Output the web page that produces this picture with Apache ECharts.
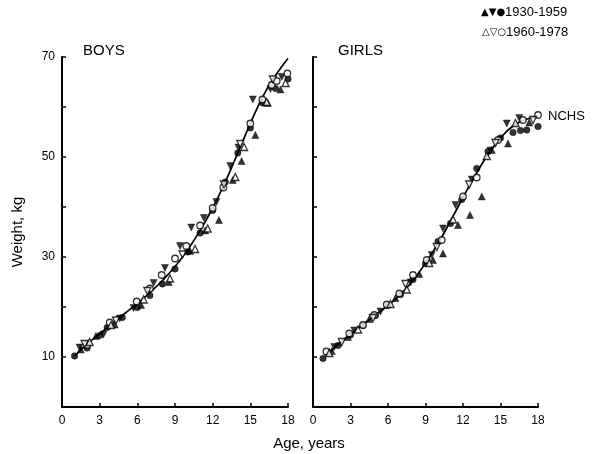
<!DOCTYPE html>
<html>
<head>
<meta charset="utf-8">
<script src="https://cdn.jsdelivr.net/npm/echarts@6/dist/echarts.min.js"></script>
<style>html,body{margin:0;padding:0;background:#fff}#c{width:600px;height:454px}</style>
</head>
<body>
<div id="c"></div>
<script>
// ---- data ----
const nchsAges = [1,2,3,4,5,6,7,8,9,10,11,12,13,14,15,16,17,18];
const boysNCHS  = [10.2,12.6,14.6,16.7,18.7,20.7,22.9,25.3,28.1,31.4,35.3,39.8,45.0,50.8,56.7,62.1,66.3,69.7];
const girlsNCHS = [10.3,12.5,14.6,16.5,18.4,20.3,22.5,25.3,28.8,32.7,37.2,41.9,46.4,50.5,53.8,56.2,57.5,58.0];

// 1930-1959 (filled markers)
const boysOldCircle = [[1,10.2],[2,11.8],[3,14.3],[3.6,15.9],[4.8,17.9],[6,19.9],[7,22.3],[8,24.6],[9,27.6],[10,31.0],[11,34.8],[12,39.3],[13,45.0],[14,50.8],[15,55.8],[16,60.8],[17,63.7],[18,65.6]];
const boysOldUp     = [[1.5,11.5],[2.7,14.2],[4.2,16.5],[6.3,20.4],[8.5,25.0],[10.2,31.2],[11.4,35.3],[12.5,37.4],[13.6,45.4],[14.3,49.2],[15.4,54.4],[16.4,60.8],[17.4,63.5],[18.3,65.4]];
const boysOldDown   = [[1.4,11.9],[3.3,14.5],[4.6,17.7],[5.7,19.8],[7.3,24.8],[8.2,27.8],[9.4,32.2],[10.3,35.9],[11.3,37.8],[12.3,41.0],[13.4,48.2],[14.05,51.9],[15.2,61.5],[16.6,63.6],[17.5,66.0],[18.3,66.5]];
// 1960-1978 (open markers)
const boysNewCircle = [[2,12.4],[3.8,16.9],[5.95,21.1],[7,23.7],[7.94,26.4],[9,29.7],[9.9,32.2],[11,36.3],[12,39.8],[12.85,43.9],[15,56.7],[15.96,61.5],[16.7,64.4],[17.1,65.2],[17.95,66.7]];
const boysNewUp     = [[2.2,13.0],[3.9,16.4],[6.5,21.5],[8.6,25.7],[10.6,31.6],[11.6,35.7],[13.8,46.0],[14.5,52.0],[16.3,61.0],[17.8,64.8]];
const boysNewDown   = [[1.8,12.6],[4.3,17.3],[6.8,23.2],[9.6,30.5],[12.9,44.5],[14.2,52.6],[16.8,65.5]];

const girlsOldCircle = [[0.8,9.7],[2,12.3],[3,14.4],[4,16.3],[5,18.3],[6,20.3],[7,22.5],[8,25.5],[9,28.7],[10,33.1],[11,36.7],[11.9,41.5],[13.1,47.7],[14,51.1],[15,53.8],[16,54.9],[16.6,55.3],[17.1,55.4],[18,56.1]];
const girlsOldUp     = [[1.5,11.2],[2.8,14.0],[4.5,17.6],[6.6,21.8],[8.5,26.6],[9.6,29.4],[10.4,30.7],[11.6,36.4],[12.56,38.4],[13.5,42.1],[14.3,51.4],[15.6,52.7],[17.3,56.9],[18.56,60.4]];
const girlsOldDown   = [[1.7,12.0],[3.3,15.3],[5.4,19.1],[7.8,24.9],[9.5,30.4],[10.4,35.7],[11.4,40.4],[12.7,45.5],[14.2,51.3],[15.5,56.7],[16.5,57.8],[18.4,54.1]];
const girlsNewCircle = [[1.07,11.1],[2.9,14.7],[4.0,16.4],[4.9,18.4],[5.9,20.5],[6.9,22.7],[8.0,26.4],[9.1,29.4],[10.3,33.4],[12,42.1],[13.1,45.9],[14.8,53.4],[16.8,57.4],[18,58.4]];
const girlsNewUp     = [[1.3,10.8],[3.6,15.5],[6.2,20.6],[7.5,23.5],[9.3,28.8],[11.2,37.5],[13.9,50.2],[16.2,56.8]];
const girlsNewDown   = [[2.3,13.0],[4.8,17.8],[7.4,24.6],[9.9,32.0],[12.5,44.5],[14.6,52.8],[17.6,57.4]];

const xTicks = [0,3,6,9,12,15,18];
const yLabelTicks = [10,30,50,70];

// ---- chart ----
const FONT = 'Liberation Sans, Arial, Helvetica, sans-serif';
const chart = echarts.init(document.getElementById('c'), null, {renderer:'canvas'});

function xAxis(idx){
  return {
    gridIndex: idx, type:'value', min:0, max:18, interval:3,
    axisLine:{show:true, onZero:false, lineStyle:{color:'#000', width:2}},
    axisTick:{show:true, inside:true, length:4, lineStyle:{color:'#000', width:1.5}},
    axisLabel:{color:'#000', fontSize:12, fontFamily:FONT, margin:8,
      formatter: v => xTicks.includes(v) ? String(v) : ''},
    splitLine:{show:false}
  };
}
function yAxis(idx, labels){
  return {
    gridIndex: idx, type:'value', min:0, max:70, interval:10,
    axisLine:{show:true, onZero:false, lineStyle:{color:'#000', width:2}},
    axisTick:{show:true, inside:true, length:4, lineStyle:{color:'#000', width:1.5},
      customValues:[10,20,30,40,50,60,70]},
    axisLabel:{show:labels, color:'#000', fontSize:12, fontFamily:FONT, margin:7,
      formatter: v => yLabelTicks.includes(v) ? String(v) : ''},
    splitLine:{show:false}
  };
}
function curve(idx, vals){
  return {type:'line', xAxisIndex:idx, yAxisIndex:idx, data: nchsAges.map((a,i)=>[a, vals[i]]),
    smooth:true, showSymbol:false, lineStyle:{color:'#000', width:1.7}, z:2, silent:true};
}
function pts(idx, data, symbol, filled, rotate){
  return {type:'scatter', xAxisIndex:idx, yAxisIndex:idx, data,
    symbol, symbolSize: symbol==='circle'?6.5:7, symbolRotate: rotate||0,
    itemStyle:{color: filled?'#000':'#fff', borderColor:'#000', borderWidth: filled?0.5:1.3},
    z: filled?3:4, silent:true};
}

chart.setOption({
  animation:false,
  backgroundColor:'#fff',
  grid:[
    {left:62, top:57, width:226, height:350},
    {left:313, top:57, width:225, height:350}
  ],
  xAxis:[xAxis(0), xAxis(1)],
  yAxis:[yAxis(0,true), yAxis(1,false)],
  series:[
    curve(0, boysNCHS),
    pts(0, boysOldCircle,'circle',true),
    pts(0, boysOldUp,'triangle',true),
    pts(0, boysOldDown,'triangle',true,180),
    pts(0, boysNewCircle,'circle',false),
    pts(0, boysNewUp,'triangle',false),
    pts(0, boysNewDown,'triangle',false,180),
    curve(1, girlsNCHS),
    pts(1, girlsOldCircle,'circle',true),
    pts(1, girlsOldUp,'triangle',true),
    pts(1, girlsOldDown,'triangle',true,180),
    pts(1, girlsNewCircle,'circle',false),
    pts(1, girlsNewUp,'triangle',false),
    pts(1, girlsNewDown,'triangle',false,180)
  ],
  graphic:[
    {type:'text', left:83, top:43, style:{text:'BOYS', font:'15px '+FONT, fill:'#000'}},
    {type:'text', left:338, top:43, style:{text:'GIRLS', font:'15px '+FONT, fill:'#000'}},
    {type:'text', left:548, top:110, style:{text:'NCHS', font:'13px '+FONT, fill:'#000'}},
    {type:'text', x:309, y:444, style:{text:'Age, years', font:'15px '+FONT, fill:'#000', align:'center', verticalAlign:'middle'}},
    {type:'text', x:18, y:232, rotation:Math.PI/2, style:{text:'Weight, kg', font:'15px '+FONT, fill:'#000', align:'center', verticalAlign:'middle'}},
    {type:'text', left:481, top:6, style:{rich:{s:{fontSize:10, fontFamily:'DejaVu Sans', fill:'#000'}, t:{fontSize:13, fontFamily:FONT, fill:'#000'}},
      text:'{s|▲▼●}{t|1930-1959}'}},
    {type:'text', left:482, top:26, style:{rich:{s:{fontSize:10, fontFamily:'DejaVu Sans', fill:'#000'}, t:{fontSize:13, fontFamily:FONT, fill:'#000'}},
      text:'{s|△▽○}{t|1960-1978}'}}
  ]
});
</script>
</body>
</html>
